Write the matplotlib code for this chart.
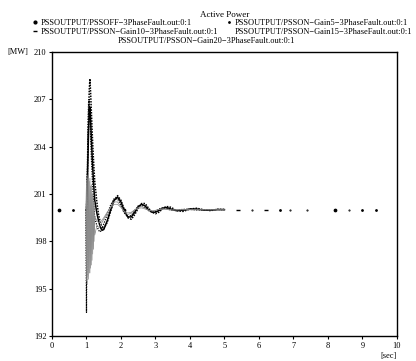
import numpy as np
import matplotlib
matplotlib.use('Agg')
import matplotlib.pyplot as plt
from matplotlib.lines import Line2D

plt.rcParams['font.family'] = ['Liberation Serif', 'DejaVu Serif']

# time axis [sec], shared by all runs
t_sec = [0.0, 0.2, 0.6, 0.98,
         1.00, 1.02, 1.04, 1.06, 1.08, 1.10, 1.12, 1.14, 1.16, 1.18, 1.20, 1.22, 1.24,
         1.30, 1.35, 1.40, 1.45, 1.50,
         1.6, 1.7, 1.8, 1.9, 2.0, 2.1, 2.2, 2.3, 2.4, 2.5, 2.6, 2.7, 2.8, 2.9, 3.0,
         3.1, 3.2, 3.3, 3.4, 3.5, 3.6,
         3.8, 4.0, 4.2, 4.4, 4.6, 4.8, 5.0,
         5.4, 5.8, 6.2, 6.6, 6.9, 7.4, 8.2, 8.6, 9.0, 9.4]

# active power [MW]
mw_pss_off = [200.0, 200.0, 200.0, 200.0,
              200.0, 201.5, 203.5, 205.8, 207.6, 208.3, 207.4, 206.3, 205.2, 204.2, 203.3, 202.5, 201.8,
              200.5, 199.7, 199.2, 198.9, 198.8,
              199.2, 199.9, 200.6, 200.9, 200.6, 200.0, 199.5, 199.4, 199.7, 200.1, 200.4, 200.4, 200.1,
              199.85, 199.75, 199.85, 200.05, 200.2, 200.2, 200.1, 199.95,
              199.9, 200.05, 200.1, 200.0, 199.95, 200.03, 200.03,
              200.0, 200.0, 200.0, 200.0, 200.0, 200.0, 200.0, 200.0, 200.0, 200.0]
mw_gain5 = [200.0, 200.0, 200.0, 200.0,
            200.0, 201.2, 203.0, 205.0, 206.2, 206.5, 205.6, 204.6, 203.6, 202.7, 201.9, 201.2, 200.6,
            199.8, 199.3, 198.9, 198.7, 198.75,
            199.3, 200.0, 200.6, 200.8, 200.5, 199.9, 199.55, 199.55, 199.85, 200.2, 200.35, 200.25, 200.0,
            199.85, 199.85, 199.95, 200.1, 200.15, 200.1, 200.0, 199.95,
            199.97, 200.05, 200.05, 199.98, 199.98, 200.02, 200.01,
            200.0, 200.0, 200.0, 200.0, 200.0, 200.0, 200.0, 200.0, 200.0, 200.0]
mw_gain10 = [200.0, 200.0, 200.0, 200.0,
             193.5, 202.0, 205.0, 206.8, 207.0, 206.0, 204.6, 203.4, 202.4, 201.5, 200.7, 200.0, 199.5,
             199.0, 198.7, 198.6, 198.8, 199.1,
             199.7, 200.3, 200.7, 200.7, 200.3, 199.8, 199.55, 199.65, 199.95, 200.25, 200.3, 200.15, 199.95,
             199.85, 199.9, 200.05, 200.12, 200.1, 200.02, 199.97, 199.97,
             200.03, 200.03, 199.99, 199.99, 200.01, 200.01, 200.0,
             200.0, 200.0, 200.0, 200.0, 200.0, 200.0, 200.0, 200.0, 200.0, 200.0]
mw_gain15 = [200.0, 200.0, 200.0, 200.0,
             195.5, 202.2, 195.8, 202.3, 196.0, 202.0, 196.3, 201.6, 196.8, 201.0, 197.5, 200.5, 198.4,
             199.0, 198.9, 199.0, 199.2, 199.4,
             199.8, 200.2, 200.5, 200.5, 200.2, 199.85, 199.7, 199.8, 200.0, 200.15, 200.2, 200.1, 199.97,
             199.92, 199.95, 200.03, 200.07, 200.05, 200.0, 199.98, 199.99,
             200.02, 200.01, 200.0, 200.0, 200.0, 200.0, 200.0,
             200.0, 200.0, 200.0, 200.0, 200.0, 200.0, 200.0, 200.0, 200.0, 200.0]
mw_gain20 = [200.0, 200.0, 200.0, 200.0,
             201.8, 195.3, 202.0, 195.6, 201.8, 196.0, 201.5, 196.5, 201.0, 197.2, 200.6, 198.0, 199.6,
             199.3, 199.2, 199.2, 199.35, 199.5,
             199.85, 200.15, 200.35, 200.35, 200.15, 199.9, 199.8, 199.85, 200.0, 200.1, 200.12, 200.05, 199.98,
             199.95, 199.97, 200.02, 200.04, 200.03, 200.0, 199.99, 200.0,
             200.0, 200.0, 200.0, 200.0, 200.0, 200.0, 200.0,
             200.0, 200.0, 200.0, 200.0, 200.0, 200.0, 200.0, 200.0, 200.0, 200.0]

labels = ['PSSOUTPUT/PSSOFF\u22123PhaseFault.out:0:1',
          'PSSOUTPUT/PSSON\u2212Gain5\u22123PhaseFault.out:0:1',
          'PSSOUTPUT/PSSON\u2212Gain10\u22123PhaseFault.out:0:1',
          'PSSOUTPUT/PSSON\u2212Gain15\u22123PhaseFault.out:0:1',
          'PSSOUTPUT/PSSON\u2212Gain20\u22123PhaseFault.out:0:1']

# times where the sparse point markers show up
mark_times = [[0.2, 2.1, 8.2], [0.6, 6.6, 9.0, 9.4], [5.4, 6.2], [5.8, 7.4], [6.9, 8.6]]

styles = [dict(color='black', lw=1.1, ls=(0, (1, 0.8)), marker='o', ms=1.7),
          dict(color='black', lw=1.1, ls='-', marker='.', ms=2.0),
          dict(color='black', lw=0.9, ls=(0, (1, 1)), marker='_', ms=3.5),
          dict(color='0.5', lw=0.5, ls='-', marker='.', ms=1.0),
          dict(color='0.55', lw=0.5, ls='-', marker='.', ms=1.0)]

series = [mw_pss_off, mw_gain5, mw_gain10, mw_gain15, mw_gain20]

fig = plt.figure(figsize=(4.16, 3.61), dpi=100)
ax = fig.add_axes([0.125, 0.069, 0.829, 0.787])

t = np.array(t_sec)
line_part = (t >= 0.98) & (t <= 5.0)
for vals, st, mt in zip(series, styles, mark_times):
    v = np.array(vals)
    ax.plot(t[line_part], v[line_part], color=st['color'], lw=st['lw'], ls=st['ls'])
    pick = np.isin(t, mt)
    ax.plot(t[pick], v[pick], ls='none', color='black', marker=st['marker'], ms=st['ms'])

ax.set_xlim(0, 10)
ax.set_ylim(192, 210)
ax.set_xticks(range(0, 11))
ax.set_yticks([192, 195, 198, 201, 204, 207, 210])
ax.tick_params(labelsize=6, length=2, width=0.8, pad=2, direction='out')
for sp in ax.spines.values():
    sp.set_linewidth(1.0)

fig.text(0.541, 1 - 15 / 361, 'Active Power', ha='center', va='center', fontsize=6.5)
fig.text(7 / 416, 1 - 52 / 361, '[MW]', va='center', fontsize=6)
fig.text(397 / 416, 1 - 356 / 361, '[sec]', ha='right', va='center', fontsize=6)

h = [Line2D([], [], ls='none', color='black', marker='o', ms=2.0),
     Line2D([], [], ls='none', color='black', marker='.', ms=2.0),
     Line2D([], [], ls='none', color='black', marker='_', ms=3.5),
     Line2D([], [], ls='none', marker='none'),
     Line2D([], [], ls='none', marker='none')]

leg_kw = dict(frameon=False, fontsize=6, handlelength=0.6, handletextpad=0.4,
              labelspacing=0.15, borderpad=0, borderaxespad=0)
fig.legend([h[0], h[2], h[1], h[3]], [labels[0], labels[2], labels[1], labels[3]],
           loc='upper left', bbox_to_anchor=(32 / 416, 1 - 19 / 361), ncol=2,
           columnspacing=1.0, **leg_kw)
fig.legend([h[4]], [labels[4]], loc='upper center',
           bbox_to_anchor=(202 / 416, 1 - 37 / 361), **leg_kw)

fig.savefig('out.png', dpi=100)
